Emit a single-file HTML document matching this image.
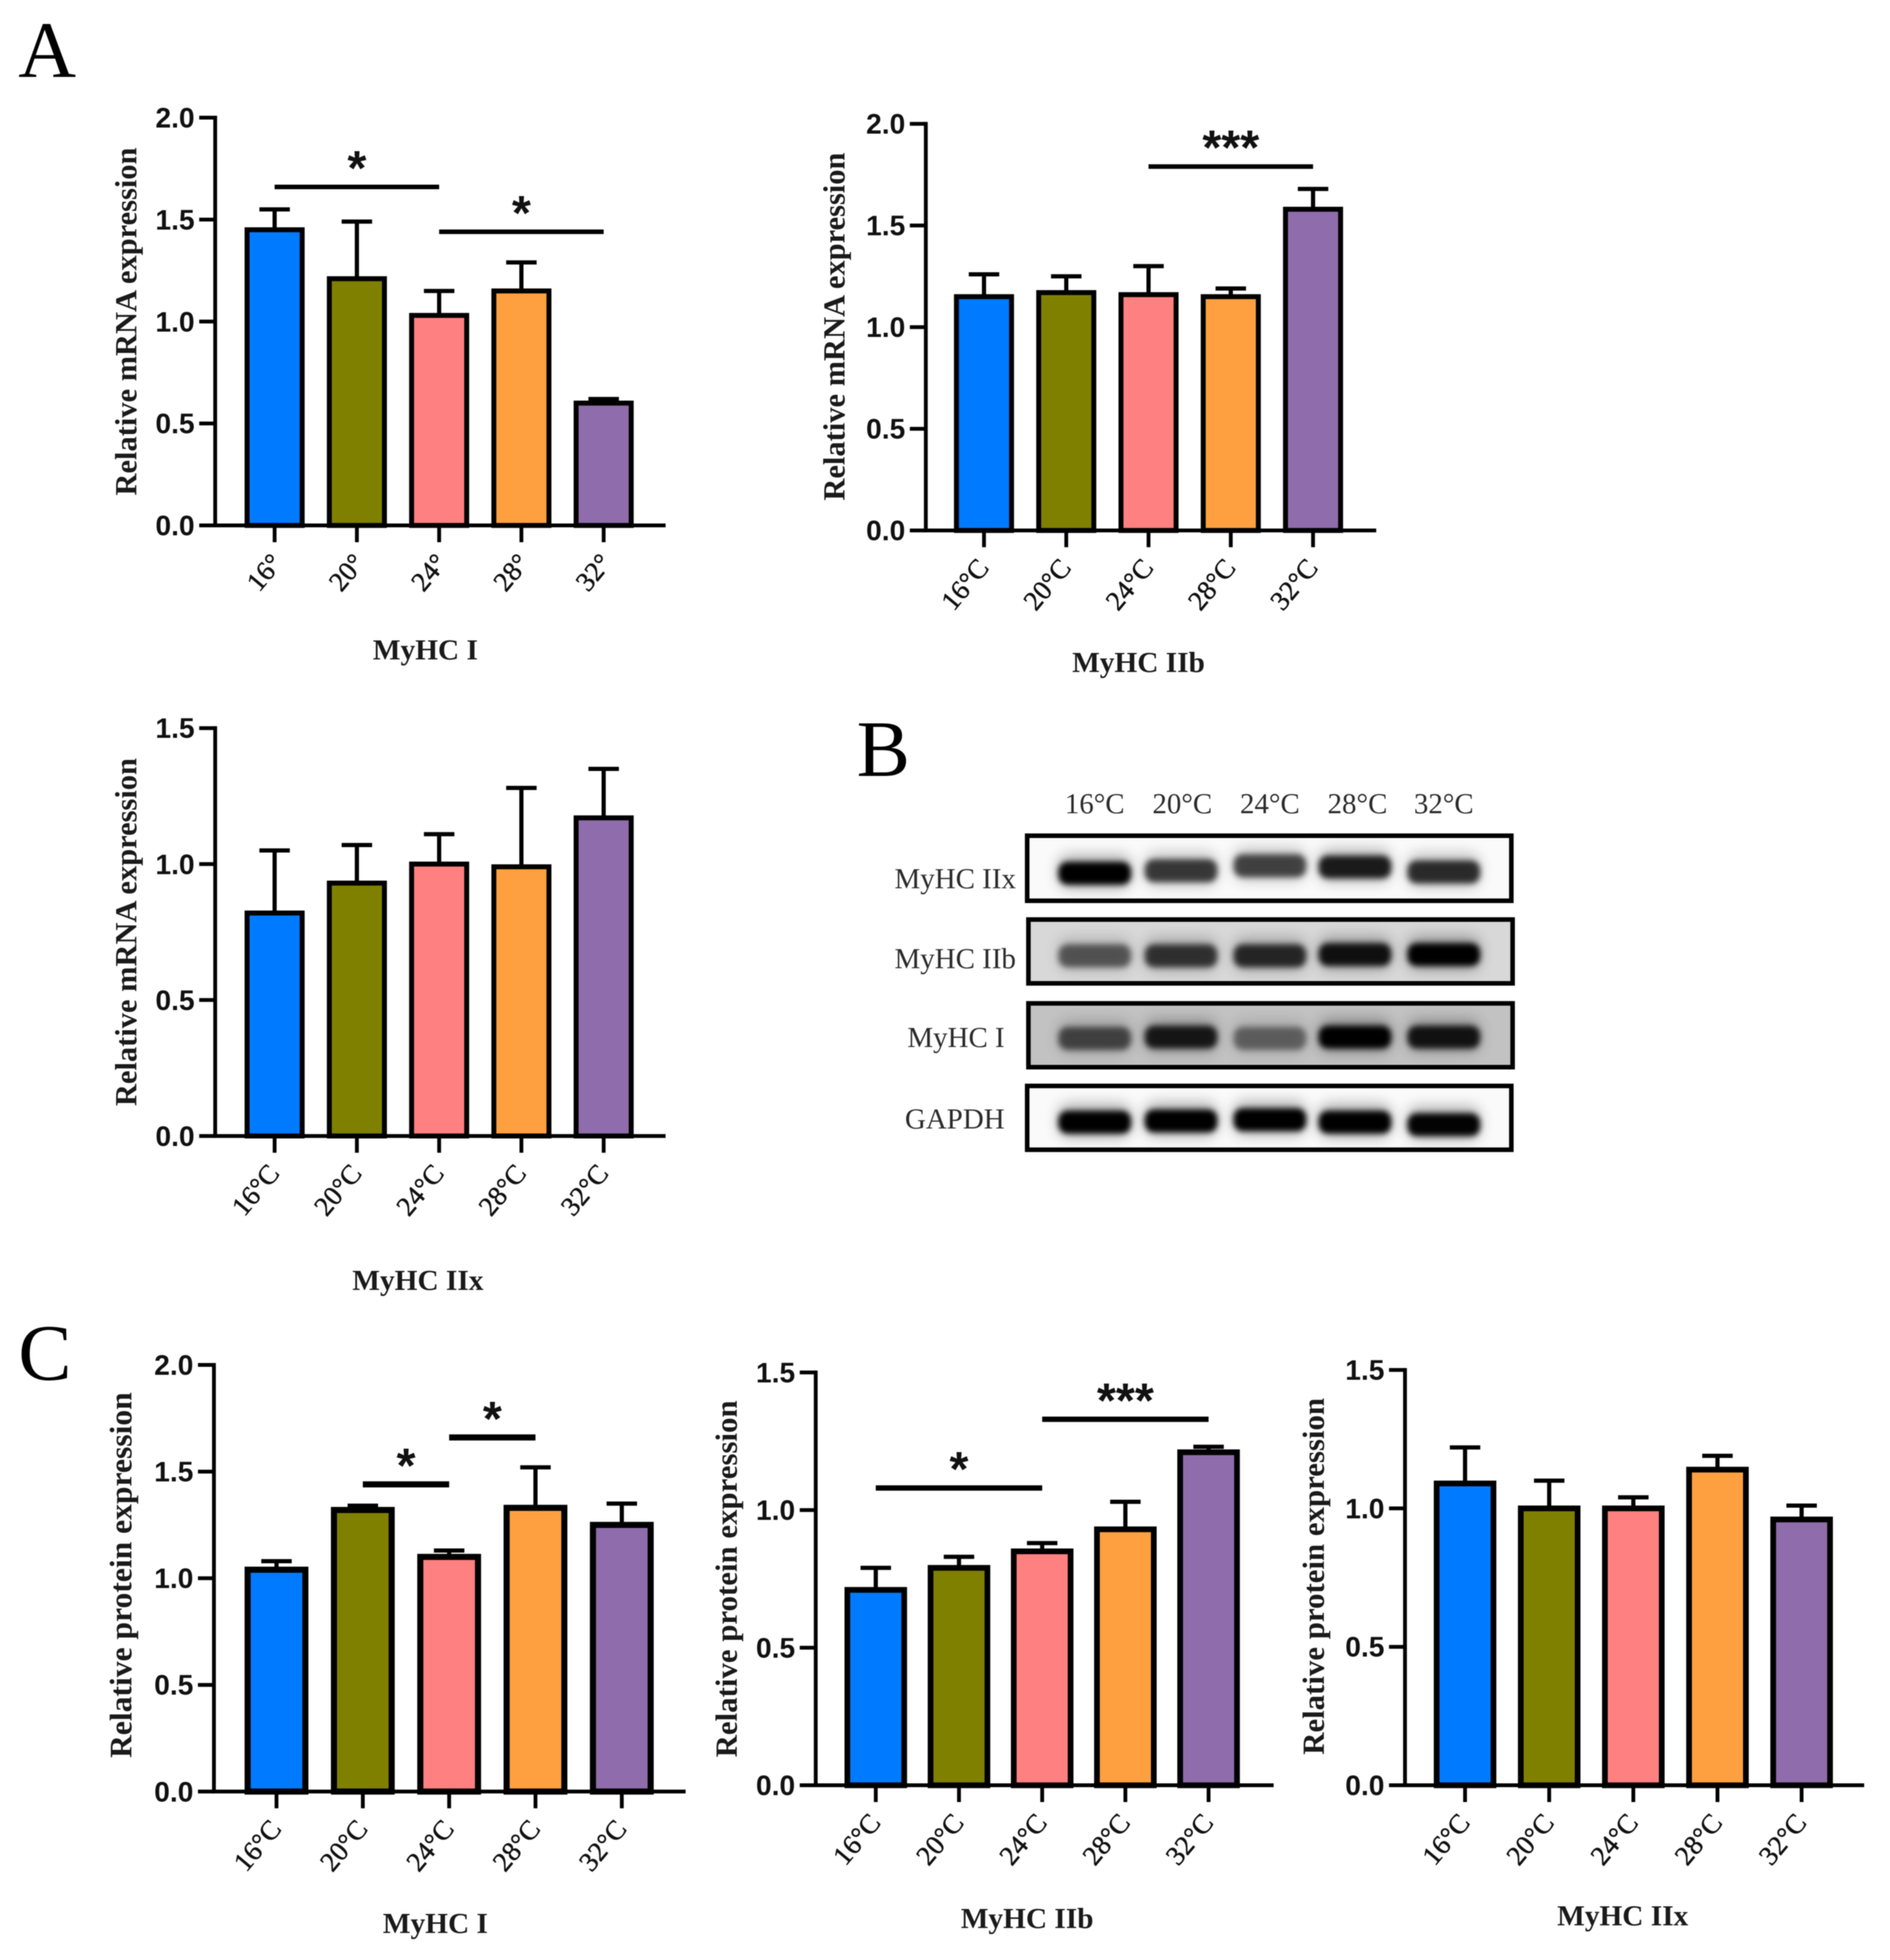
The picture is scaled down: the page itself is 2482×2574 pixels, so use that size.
<!DOCTYPE html>
<html>
<head>
<meta charset="utf-8">
<title>MyHC expression at rearing temperatures</title>
<style>
html,body{margin:0;padding:0;background:#fff;}
svg{display:block;filter:blur(0.6px);}
.tick{font-family:"Liberation Sans",sans-serif;font-weight:700;font-size:37px;fill:#111;}
.ttl{font-family:"Liberation Serif",serif;font-weight:700;fill:#1a1a1a;}
.cat{font-family:"Liberation Serif",serif;font-size:36px;fill:#111;stroke:#111;stroke-width:0.6px;}
.letter{font-family:"Liberation Serif",serif;font-size:105px;fill:#000;}
.blot{font-family:"Liberation Serif",serif;font-size:38px;fill:#2c2c2c;}
.star{font-family:"Liberation Sans",sans-serif;font-weight:700;font-size:64px;fill:#111;}
</style>
</head>
<body>
<svg id="fig" xmlns="http://www.w3.org/2000/svg" width="2482" height="2574" viewBox="0 0 2482 2574">
<defs>
<filter id="blur" x="-30%" y="-80%" width="160%" height="260%"><feGaussianBlur stdDeviation="4"></feGaussianBlur></filter>
<filter id="haze" x="-30%" y="-100%" width="160%" height="300%"><feGaussianBlur stdDeviation="9"></feGaussianBlur></filter>
</defs>
<text class="letter" x="24" y="101">A</text>
<text class="letter" x="1125" y="1019">B</text>
<text class="letter" x="24" y="1812">C</text>
</svg>
<script>
// ---- chart data ----
const colors = ['#007bff', '#808000', '#ff8080', '#ffa040', '#8f6cab'];
const degLabels = ['16°', '20°', '24°', '28°', '32°'];
const tempLabels = ['16°C', '20°C', '24°C', '28°C', '32°C'];

const ticksTo2 = [0, 0.5, 1, 1.5, 2];
const ticksTo15 = [0, 0.5, 1, 1.5];

const mrnaIValues = [1.45, 1.21, 1.03, 1.15, 0.60];
const mrnaIErrors = [1.55, 1.49, 1.15, 1.29, 0.62];
const mrnaIIbValues = [1.15, 1.17, 1.16, 1.15, 1.58];
const mrnaIIbErrors = [1.26, 1.25, 1.30, 1.19, 1.68];
const mrnaIIxValues = [0.82, 0.93, 1.00, 0.99, 1.17];
const mrnaIIxErrors = [1.05, 1.07, 1.11, 1.28, 1.35];
const proteinIValues = [1.04, 1.32, 1.10, 1.33, 1.25];
const proteinIErrors = [1.08, 1.34, 1.13, 1.52, 1.35];
const proteinIIbValues = [0.71, 0.79, 0.85, 0.93, 1.21];
const proteinIIbErrors = [0.79, 0.83, 0.88, 1.03, 1.23];
const proteinIIxValues = [1.09, 1.00, 1.00, 1.14, 0.96];
const proteinIIxErrors = [1.22, 1.10, 1.04, 1.19, 1.01];

const mrnaISig = [[0, 2, 1.66, '*'], [2, 4, 1.44, '*']];
const mrnaIIbSig = [[2, 4, 1.79, '***']];
const proteinISig = [[1, 2, 1.44, '*'], [2, 3, 1.66, '*']];
const proteinIIbSig = [[0, 2, 1.08, '*'], [2, 4, 1.33, '***']];

// blot band intensities (0 faint .. 1 black), one array per row
const blotRows = ['MyHC IIx', 'MyHC IIb', 'MyHC I', 'GAPDH'];
const bandIIx = [1, 0.72, 0.68, 0.86, 0.78];
const bandIIb = [0.55, 0.72, 0.78, 0.9, 1];
const bandI = [0.6, 0.85, 0.45, 1, 0.88];
const bandGapdh = [1, 1, 1, 1, 0.98];

// ---- drawing ----
const NS = 'http://www.w3.org/2000/svg';
const fig = document.getElementById('fig');
const S = 1.643;

function mk(parent, tag, attrs, txt) {
  const el = document.createElementNS(NS, tag);
  for (const k in attrs) el.setAttribute(k, attrs[k]);
  if (txt !== undefined) el.textContent = txt;
  parent.appendChild(el);
  return el;
}

function drawPanel(p) {
  const g = mk(fig, 'g', {});
  
  
  const x0 = p.axisX * S, yTop = p.top * S, yBot = p.bottom * S, xEnd = p.end * S;
  const maxV = p.ticks[p.ticks.length - 1];
  const yScale = v => yBot - (v / maxV) * (yBot - yTop);
  const step = (p.lastC - p.firstC) * S / (p.cats.length - 1);
  const xScale = i => p.firstC * S + i * step;
  const barW = p.barW * S - p.sw;

  p.values.forEach((v, i) => {
    const err = mk(g, 'path', {
      d: 'M' + xScale(i) + ' ' + yScale(v) + 'V' + yScale(p.errors[i]) + 'M' + (xScale(i) - 20) + ' ' + yScale(p.errors[i]) + 'H' + (xScale(i) + 20),
      stroke: '#000', 'stroke-width': 5.5, fill: 'none'
    });
    
    
    const bar = mk(g, 'rect', {
      x: xScale(i) - barW / 2, y: yScale(v), width: barW, height: yBot - yScale(v),
      fill: colors[i], stroke: '#000', 'stroke-width': p.sw
    });
    
    
    const tk = mk(g, 'line', {x1: xScale(i), x2: xScale(i), y1: yBot, y2: yBot + 22, stroke: '#000', 'stroke-width': 5});
    
    
    const lx = xScale(i) + p.catDx, ly = yBot + 50;
    const lab = mk(g, 'text', {class: 'cat', x: lx, y: ly, 'text-anchor': 'end', transform: 'rotate(-50 ' + lx + ' ' + ly + ')'}, p.cats[i]);
    
    
  });

  const axes = mk(g, 'path', {d: 'M' + x0 + ' ' + (yTop - 2.5) + 'V' + yBot + 'H' + xEnd, stroke: '#000', 'stroke-width': 5, fill: 'none'});
  
  

  p.ticks.forEach(t => {
    const tk = mk(g, 'line', {x1: x0 - 21, x2: x0, y1: yScale(t), y2: yScale(t), stroke: '#000', 'stroke-width': 5});
    
    
    const lab = mk(g, 'text', {class: 'tick', x: x0 - 27, y: yScale(t) + 13, 'text-anchor': 'end'}, t.toFixed(1));
    
    
  });

  p.sig.forEach(s => {
    const yy = yScale(s[2]);
    const ln = mk(g, 'line', {x1: xScale(s[0]), x2: xScale(s[1]), y1: yy, y2: yy, stroke: '#000', 'stroke-width': p.sigW});
    
    
    const st = mk(g, 'text', {class: 'star', x: (xScale(s[0]) + xScale(s[1])) / 2, y: yy - 3, 'text-anchor': 'middle'}, s[3]);
    
    
  });

  const ytx = p.ytitleX * S, yty = p.ytitleY * S;
  const yt = mk(g, 'text', {class: 'ttl', 'font-size': p.ytitleSize, x: ytx, y: yty, 'text-anchor': 'middle', transform: 'rotate(-90 ' + ytx + ' ' + yty + ')'}, p.ytitle);
  
  
  const xt = mk(g, 'text', {class: 'ttl', 'font-size': 38.5, x: p.titleX * S, y: p.titleY * S, 'text-anchor': 'middle'}, p.title);
  
  
}

drawPanel({name: 'chart-mrna-myhc-i', axisX: 172, top: 94, bottom: 420, end: 532, firstC: 219.5, lastC: 482.5, barW: 48, sw: 6.5, sigW: 6, catDx: 12,
  ticks: ticksTo2, cats: degLabels, values: mrnaIValues, errors: mrnaIErrors, sig: mrnaISig,
  ytitle: 'Relative mRNA expression', ytitleSize: 40, ytitleX: 109, ytitleY: 257, title: 'MyHC I', titleX: 340, titleY: 527});
drawPanel({name: 'chart-mrna-myhc-iib', axisX: 740, top: 99, bottom: 424, end: 1100, firstC: 786.5, lastC: 1049.5, barW: 48, sw: 6.5, sigW: 6, catDx: 8,
  ticks: ticksTo2, cats: tempLabels, values: mrnaIIbValues, errors: mrnaIIbErrors, sig: mrnaIIbSig,
  ytitle: 'Relative mRNA expression', ytitleSize: 40, ytitleX: 675, ytitleY: 261, title: 'MyHC IIb', titleX: 910, titleY: 537});
drawPanel({name: 'chart-mrna-myhc-iix', axisX: 172, top: 582, bottom: 908, end: 532, firstC: 219.5, lastC: 482.5, barW: 48, sw: 6.5, sigW: 6, catDx: 8,
  ticks: ticksTo15, cats: tempLabels, values: mrnaIIxValues, errors: mrnaIIxErrors, sig: [],
  ytitle: 'Relative mRNA expression', ytitleSize: 40, ytitleX: 109, ytitleY: 745, title: 'MyHC IIx', titleX: 334, titleY: 1031});
drawPanel({name: 'chart-protein-myhc-i', axisX: 171, top: 1091, bottom: 1432, end: 548, firstC: 221, lastC: 497, barW: 51, sw: 8, sigW: 8, catDx: 8,
  ticks: ticksTo2, cats: tempLabels, values: proteinIValues, errors: proteinIErrors, sig: proteinISig,
  ytitle: 'Relative protein expression', ytitleSize: 41.5, ytitleX: 105, ytitleY: 1259, title: 'MyHC I', titleX: 348, titleY: 1545});
drawPanel({name: 'chart-protein-myhc-iib', axisX: 652, top: 1097, bottom: 1427, end: 1018, firstC: 700, lastC: 966, barW: 50, sw: 7.5, sigW: 7, catDx: 8,
  ticks: ticksTo15, cats: tempLabels, values: proteinIIbValues, errors: proteinIIbErrors, sig: proteinIIbSig,
  ytitle: 'Relative protein expression', ytitleSize: 40.5, ytitleX: 589, ytitleY: 1262, title: 'MyHC IIb', titleX: 821, titleY: 1541});
drawPanel({name: 'chart-protein-myhc-iix', axisX: 1123, top: 1095, bottom: 1427, end: 1490, firstC: 1171, lastC: 1440, barW: 50, sw: 7.5, sigW: 7, catDx: 8,
  ticks: ticksTo15, cats: tempLabels, values: proteinIIxValues, errors: proteinIIxErrors, sig: [],
  ytitle: 'Relative protein expression', ytitleSize: 40.5, ytitleX: 1058, ytitleY: 1260, title: 'MyHC IIx', titleX: 1297, titleY: 1539});

// ---- western blot ----
const laneX = [875, 944, 1015, 1083, 1154];
const blotBands = [bandIIx, bandIIb, bandI, bandGapdh];
const blotBoxes = [[821, 668, 387, 52, '#fafafa'], [822, 735, 387, 51, '#d8d8d8'], [822, 802, 387, 51, '#c2c2c2'], [821, 868, 387, 51, '#fafafa']];
const bandY = [[698, 696, 692, 693, 697], [764, 764, 764, 763, 763], [830, 829, 830, 829, 829], [897, 896, 895, 897, 899]];
const rowLabelX = [812, 812, 803, 803];
const rowLabelY = [710, 774, 837, 902];

const blot = mk(fig, 'g', {});



tempLabels.forEach((t, i) => {
  const h = mk(blot, 'text', {class: 'blot', x: [875, 945, 1015, 1085, 1154][i] * S, y: 650 * S, 'text-anchor': 'middle'}, t);
  
  
});

blotRows.forEach((name, r) => {
  const b = blotBoxes[r];
  const bg = mk(blot, 'rect', {x: b[0] * S, y: b[1] * S, width: b[2] * S, height: b[3] * S, fill: b[4]});
  
  
  blotBands[r].forEach((v, i) => {
    const haze = mk(blot, 'rect', {
      x: (laneX[i] - 29) * S, y: bandY[r][i] * S - 24, width: 58 * S, height: 44, rx: 14,
      fill: '#000', opacity: 0.3 * v, filter: 'url(#haze)'
    });
    
    
    const band = mk(blot, 'rect', {
      x: (laneX[i] - 29) * S, y: bandY[r][i] * S - 15, width: 58 * S, height: 30, rx: 12,
      fill: '#000', opacity: v, filter: 'url(#blur)'
    });
    
    
  });
  const fr = mk(blot, 'rect', {x: b[0] * S, y: b[1] * S, width: b[2] * S, height: b[3] * S, fill: 'none', stroke: '#000', 'stroke-width': 6});
  
  
  const lb = mk(blot, 'text', {class: 'blot', x: rowLabelX[r] * S, y: rowLabelY[r] * S, 'text-anchor': 'end'}, name);
  
  
});
</script>
</body>
</html>
